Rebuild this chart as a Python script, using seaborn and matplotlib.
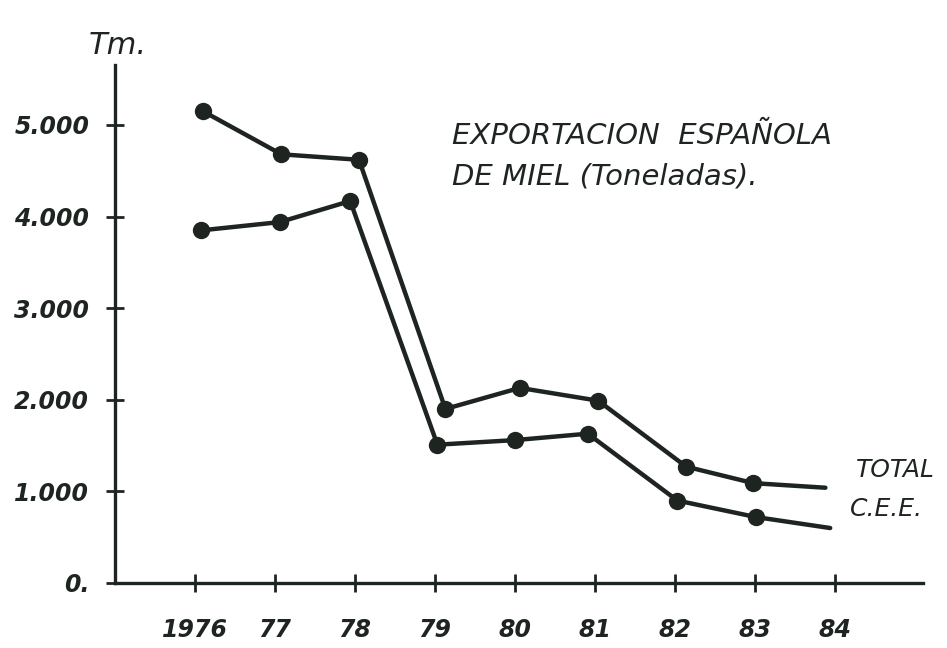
import numpy as np
import pandas as pd
import matplotlib
matplotlib.use("Agg")
import matplotlib.pyplot as plt
import seaborn as sns

# values (x in years, y in tonnes)
total_x = [1976.10, 1977.08, 1978.05, 1979.13, 1980.06, 1981.04, 1982.14, 1982.98, 1983.88]
total_y = [5150, 4680, 4620, 1900, 2130, 1990, 1270, 1090, 1040]
cee_x = [1976.08, 1977.06, 1977.94, 1979.03, 1980.00, 1980.91, 1982.03, 1983.01, 1983.94]
cee_y = [3850, 3940, 4170, 1510, 1560, 1630, 900, 720, 600]

year_ticks = [1976, 1977, 1978, 1979, 1980, 1981, 1982, 1983, 1984]
year_labels = ["1976", "77", "78", "79", "80", "81", "82", "83", "84"]
y_ticks = [0, 1000, 2000, 3000, 4000, 5000]
y_labels = ["0.", "1.000", "2.000", "3.000", "4.000", "5.000"]

ink = "#1e2521"

sns.set_theme(style="white")
plt.rcParams["font.family"] = ["DejaVu Sans"]

df_total = pd.DataFrame({"year": total_x, "tm": total_y})
df_cee = pd.DataFrame({"year": cee_x, "tm": cee_y})

W, H = 947, 648
fig = plt.figure(figsize=(W / 100, H / 100), dpi=100)
ax = fig.add_axes([115 / W, 65 / H, (923 - 115) / W, 518 / H])

for d in (df_total, df_cee):
    # last point of each series is drawn without a dot
    sns.lineplot(data=d, x="year", y="tm", ax=ax, color=ink, linewidth=3.2,
                 marker="o", markersize=12.5, markeredgewidth=0,
                 markevery=list(range(len(d) - 1)), sort=False)

ax.set_xlim(1975.0, 1985.1)
ax.set_ylim(0, 5655)
ax.set_xlabel("")
ax.set_ylabel("")

ax.set_xticks(year_ticks)
ax.set_xticklabels(year_labels, fontsize=17, fontstyle="oblique",
                   fontweight="bold", color=ink)
ax.set_yticks(y_ticks)
ax.set_yticklabels(y_labels, fontsize=17, fontstyle="oblique",
                   fontweight="bold", color=ink)
ax.tick_params(axis="both", direction="inout", length=13, width=2, color=ink,
               bottom=True, left=True)
ax.tick_params(axis="x", pad=19)
ax.tick_params(axis="y", pad=12)

sns.despine(ax=ax)
for s in ("left", "bottom"):
    ax.spines[s].set_linewidth(2.4)
    ax.spines[s].set_color(ink)

def ftext(x, y, s, **kw):
    fig.text(x / W, 1 - y / H, s, color=ink, fontstyle="oblique", **kw)

ftext(118, 45, "Tm.", fontsize=22, ha="center", va="center")
ftext(452, 136, "EXPORTACION  ESPAÑOLA", fontsize=21, ha="left", va="center")
ftext(452, 177, "DE MIEL (Toneladas).", fontsize=21, ha="left", va="center")
ftext(856, 470, "TOTAL", fontsize=18, ha="left", va="center")
ftext(850, 509, "C.E.E.", fontsize=18, ha="left", va="center")

fig.savefig("out.png", dpi=100, facecolor="white")
